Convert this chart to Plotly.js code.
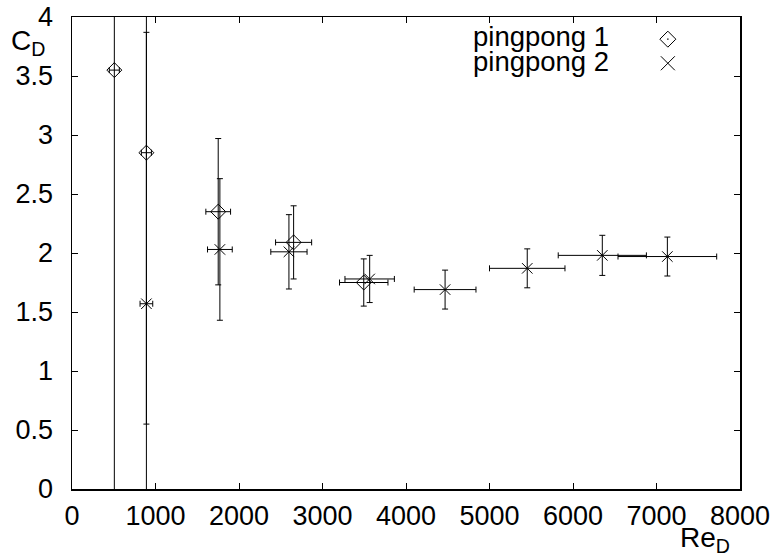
<!DOCTYPE html>
<html>
<head>
<meta charset="utf-8">
<script src="https://cdn.plot.ly/plotly-3.0.1.min.js"></script>
<style>html,body{margin:0;padding:0;background:#fff;}#chart{width:772px;height:560px;}</style>
</head>
<body>
<div id="chart"></div>
<script>
// pingpong 1 (diamonds)
var re1 = [507, 891, 1751, 2654, 3494];
var cd1 = [3.55, 2.85, 2.35, 2.09, 1.75];
var re1Err = [60, 60, 148, 216, 290];
var cd1Err = [4.0, 2.3, 0.62, 0.31, 0.2];

// pingpong 2 (crosses)
var re2 = [891, 1771, 2598, 3565, 4468, 5452, 6351, 7130];
var cd2 = [1.57, 2.03, 2.01, 1.78, 1.69, 1.87, 1.98, 1.97];
var re2Err = [76, 148, 217, 296, 370, 452, 528, 591];
var cd2Err = [2.3, 0.6, 0.315, 0.2, 0.165, 0.165, 0.17, 0.165];

var seriesNames = ['pingpong 1', 'pingpong 2'];
var xTicks = [0, 1000, 2000, 3000, 4000, 5000, 6000, 7000, 8000];
var yTicks = [0, 0.5, 1, 1.5, 2, 2.5, 3, 3.5, 4];

var FONT = 'Liberation Sans, Arial, sans-serif';
var errStyle = {color: '#000', thickness: 1, width: 3};

var traces = [
  {
    x: re1, y: cd1, name: seriesNames[0], type: 'scatter', mode: 'markers',
    marker: {symbol: 'diamond-open', size: 11.5, color: '#000', line: {width: 1, color: '#000'}},
    error_x: Object.assign({type: 'data', array: re1Err, visible: true}, errStyle),
    error_y: Object.assign({type: 'data', array: cd1Err, visible: true}, errStyle)
  },
  {
    x: re2, y: cd2, name: seriesNames[1], type: 'scatter', mode: 'markers',
    marker: {symbol: 'x-thin-open', size: 10.5, color: '#000', line: {width: 1, color: '#000'}},
    error_x: Object.assign({type: 'data', array: re2Err, visible: true}, errStyle),
    error_y: Object.assign({type: 'data', array: cd2Err, visible: true}, errStyle)
  }
];

var axisCommon = {
  showgrid: false, zeroline: false, showline: true, linecolor: '#000', linewidth: 1.5,
  mirror: 'ticks', ticks: 'inside', ticklen: 6, tickwidth: 1, tickcolor: '#000',
  tickfont: {family: FONT, size: 27, color: '#000'}
};

var layout = {
  width: 772, height: 560,
  margin: {l: 72, r: 32, t: 17, b: 71},
  paper_bgcolor: '#fff', plot_bgcolor: '#fff',
  showlegend: false,
  font: {family: FONT, color: '#000'},
  xaxis: Object.assign({}, axisCommon, {range: [0, 8000], tickvals: xTicks, ticktext: xTicks.map(String), ticklabelstandoff: 2}),
  yaxis: Object.assign({}, axisCommon, {range: [0, 4], tickvals: yTicks, ticktext: yTicks.map(String), ticklabelstandoff: 12}),
  annotations: [
    {text: 'C<sub>D</sub>', xref: 'paper', yref: 'paper', x: -0.095, y: 0.945, xanchor: 'left', yanchor: 'middle',
     showarrow: false, font: {family: FONT, size: 28, color: '#000'}},
    {text: 'Re<sub>D</sub>', xref: 'paper', yref: 'paper', x: 0.988, y: -0.108, xanchor: 'right', yanchor: 'middle',
     showarrow: false, font: {family: FONT, size: 28, color: '#000'}},
    {text: seriesNames[0], xref: 'paper', yref: 'paper', x: 0.807, y: 0.958, xanchor: 'right', yanchor: 'middle',
     showarrow: false, font: {family: FONT, size: 27.5, color: '#000'}},
    {text: seriesNames[1], xref: 'paper', yref: 'paper', x: 0.807, y: 0.906, xanchor: 'right', yanchor: 'middle',
     showarrow: false, font: {family: FONT, size: 27.5, color: '#000'}}
  ],
  shapes: [
    {type: 'path', xref: 'paper', yref: 'paper', xsizemode: 'pixel', ysizemode: 'pixel',
     xanchor: 0.892, yanchor: 0.953, path: 'M-8,0L0,8L8,0L0,-8Z', line: {color: '#000', width: 1}},
    {type: 'path', xref: 'paper', yref: 'paper', xsizemode: 'pixel', ysizemode: 'pixel',
     xanchor: 0.892, yanchor: 0.953, path: 'M-0.7,0L0.7,0', line: {color: '#000', width: 1.2}},
    {type: 'path', xref: 'paper', yref: 'paper', xsizemode: 'pixel', ysizemode: 'pixel',
     xanchor: 0.892, yanchor: 0.902, path: 'M-7,-7L7,7M-7,7L7,-7', line: {color: '#000', width: 1}}
  ]
};

Plotly.newPlot('chart', traces, layout, {displayModeBar: false, staticPlot: true});
</script>
</body>
</html>
